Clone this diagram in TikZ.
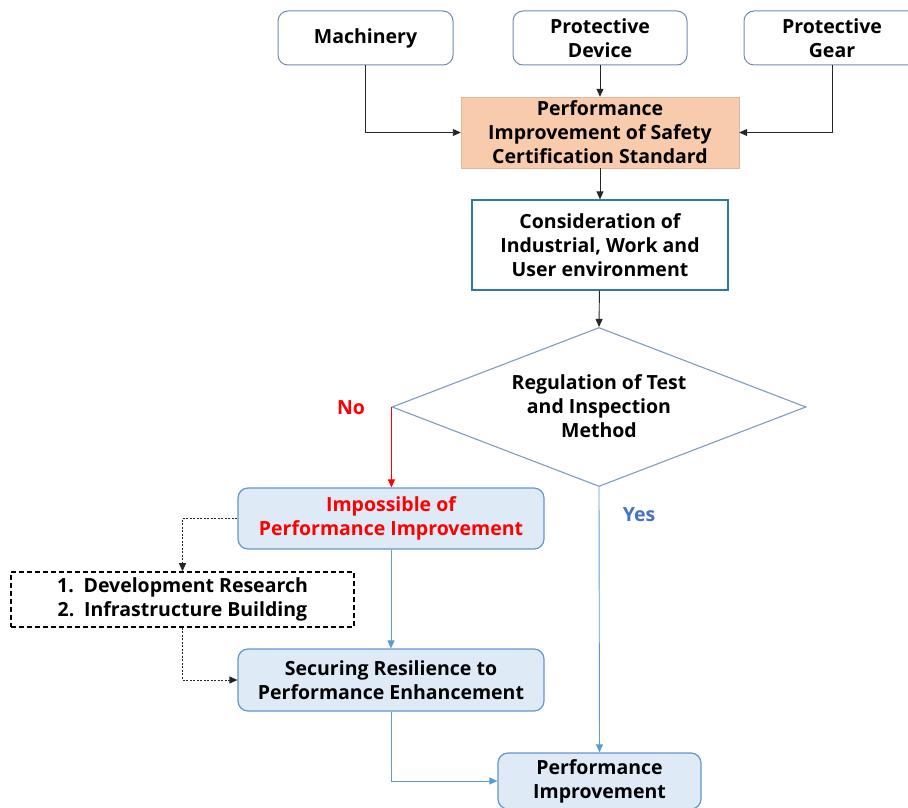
\documentclass[tikz,border=0pt]{standalone}
\usepackage{fontspec}
\setmainfont{Open Sans}
\usetikzlibrary{shapes.geometric,arrows.meta}
\definecolor{topbd}{RGB}{110,140,180}
\definecolor{consbd}{RGB}{46,117,182}
\definecolor{diabd}{RGB}{125,155,192}
\definecolor{lbfill}{RGB}{222,235,247}
\definecolor{lbbd}{RGB}{100,150,200}
\definecolor{arrblue}{RGB}{91,155,213}
\definecolor{yesblue}{RGB}{68,114,196}
\definecolor{orfill}{RGB}{248,203,173}
\definecolor{myred}{RGB}{255,0,0}
\tikzset{
  txt/.style={font=\fontsize{19.5}{24}\selectfont\bfseries, align=center, inner sep=0pt},
  topbox/.style={txt, draw=topbd, line width=1pt, fill=white, rounded corners=10pt},
  lbbox/.style={txt, draw=lbbd, line width=1.2pt, fill=lbfill, rounded corners=10pt},
  arr/.style={-{Triangle[length=8pt,width=7pt]}, line width=0.9pt, draw=black!85},
  barr/.style={arr, draw=arrblue, -{Triangle[length=8pt,width=7pt,fill=arrblue]}},
  rarr/.style={arr, draw=myred, -{Triangle[length=8pt,width=7pt,fill=myred]}},
  darr/.style={arr, dashed, dash pattern=on 2pt off 1.5pt, line width=0.8pt},
}
\begin{document}
\begin{tikzpicture}[x=1pt,y=-1pt]
\useasboundingbox (0,0) rectangle (908,808);
\node[topbox, minimum width=175pt, minimum height=54pt] (mach) at (365.5,38) {Machinery};
\node[topbox, minimum width=174pt, minimum height=54pt] (pdev) at (600,38) {Protective\\Device};
\node[topbox, minimum width=176pt, minimum height=54pt] (gear) at (832,38) {Protective\\Gear};
\node[txt, fill=orfill, draw=orfill!90!black, line width=0.4pt, minimum width=278pt, minimum height=71pt] (std) at (600,132.5) {Performance\\Improvement of Safety\\Certification Standard};
\node[txt, draw=consbd, line width=1.2pt, fill=white, minimum width=256pt, minimum height=90pt] (cons) at (600,245) {Consideration of\\Industrial, Work and\\User environment};
\node[txt, diamond, draw=diabd, line width=1.1pt, minimum width=414pt, minimum height=159pt] (reg) at (599,407) {\raisebox{-7pt}[0pt][0pt]{\makebox[0pt]{\begin{tabular}{@{}c@{}}Regulation of Test\\and Inspection\\Method\end{tabular}}}};
\node[lbbox, text=myred, minimum width=306pt, minimum height=61pt] (imp) at (391,518.5) {Impossible of\\Performance Improvement};
\node[txt, draw=black, dashed, dash pattern=on 5pt off 3pt, line width=1.6pt, minimum width=343pt, minimum height=55pt] (dev) at (182.5,599.5) {1.\enspace Development Research\\2.\enspace Infrastructure Building};
\node[lbbox, minimum width=306pt, minimum height=62pt] (sec) at (391,680) {Securing Resilience to\\Performance Enhancement};
\node[lbbox, minimum width=203pt, minimum height=56pt] (perf) at (599.5,781) {Performance\\Improvement};
\node[txt, text=myred] (no) at (351,408) {No};
\node[txt, text=yesblue] (yes) at (639,515) {Yes};
\draw[arr] (mach.south) |- (std.west);
\draw[arr] (pdev) -- (std);
\draw[arr] (gear.south) |- (std.east);
\draw[arr] (std) -- (cons);
\draw[arr] (cons) -- (reg.north);
\draw[rarr] (reg.west) -- (reg.west |- imp.north);
\draw[barr] (reg.south) -- (perf.north);
\draw[barr] (imp) -- (sec);
\draw[barr] (sec.south) |- (perf.west);
\draw[darr] (imp.west) -| (dev.north);
\draw[darr] (dev.south) |- (sec.west);
\end{tikzpicture}
\end{document}
